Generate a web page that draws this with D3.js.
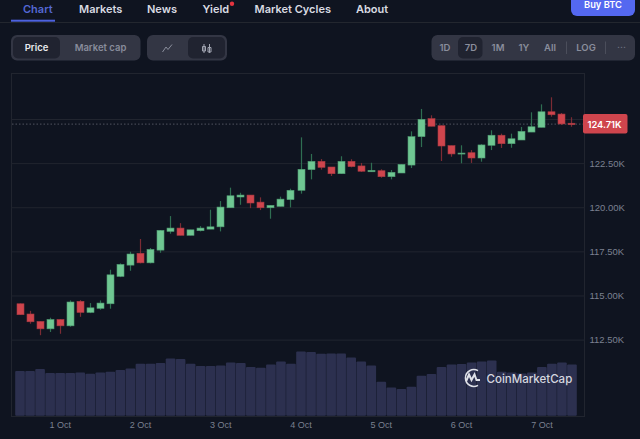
<!DOCTYPE html>
<html>
<head>
<meta charset="UTF-8">
<title>BTC chart</title>
<script src="https://cdn.jsdelivr.net/npm/d3@7"></script>
<style>
html, body { margin: 0; padding: 0; background: #0f1420; overflow: hidden; }
svg { display: block; font-family: Inter, "Noto Sans", sans-serif; }
</style>
</head>
<body>
<svg id="vis" width="640" height="439"></svg>
<script>
// 3h candles, prices in thousands of USD
var opens = [114.53,113.95,113.53,113.11,113.64,113.28,114.67,114.04,114.27,114.53,116.08,116.72,117.39,116.85,117.57,118.63,118.82,118.41,118.67,118.76,118.89,119.97,120.58,120.69,120.29,119.97,120.05,120.43,120.96,122.13,122.60,122.28,121.90,122.60,122.34,122.01,122.07,121.73,121.94,122.39,124.00,125.02,124.62,123.49,123.02,123.09,122.79,123.51,124.08,123.60,123.81,124.26,124.53,125.41,125.28,124.76];
var highs = [114.55,114.13,113.53,113.74,113.66,114.72,114.74,114.57,114.72,116.46,116.82,117.48,118.20,117.69,118.71,119.50,119.10,118.72,118.93,119.86,120.35,121.11,120.82,120.69,120.56,120.11,120.60,121.05,123.96,123.02,122.73,122.28,122.89,122.72,122.51,122.52,122.15,122.11,122.43,124.30,125.57,125.21,124.62,123.49,123.51,123.24,123.57,124.36,124.17,124.17,124.55,125.38,125.83,126.23,125.34,125.10];
var lows = [113.91,113.40,112.75,112.93,112.83,113.23,113.79,114.00,114.19,114.25,116.04,116.40,116.82,116.82,117.42,118.50,118.41,118.41,118.63,118.76,118.63,119.97,120.14,119.95,119.84,119.35,120.05,119.99,120.77,121.58,122.13,121.77,121.90,122.26,122.00,122.01,121.67,121.58,121.94,122.22,123.41,124.59,122.62,122.86,122.49,122.51,122.58,123.24,123.36,123.37,123.81,124.26,124.53,125.13,124.66,124.56];
var closes = [113.91,113.51,113.11,113.64,113.28,114.63,114.04,114.30,114.57,116.17,116.76,117.35,116.85,117.61,118.69,118.82,118.41,118.72,118.82,118.89,120.01,120.65,120.69,120.24,119.97,120.11,120.46,120.96,122.15,122.60,122.26,121.90,122.60,122.30,122.04,122.09,121.73,121.98,122.43,124.00,124.98,124.59,123.47,123.02,123.07,122.79,123.53,124.08,123.60,123.88,124.30,124.56,125.41,125.24,124.72,124.68];
// volume axis is not labelled, so relative units
var volumes = [44.7,44.7,46.7,42.7,42.7,42.7,43.3,42,43.3,44,45.7,47.3,52,52,52.7,57.3,56.7,52,49.7,49.7,50.3,53.3,52.7,48.7,48,51.3,54.3,52,64.3,63.7,62,62.3,62.3,58.3,54.3,50.3,34,28.3,26.7,29,40,41.7,48.7,51.3,51.7,53.3,54.3,55.3,44,43.3,42.3,43.3,48.7,52,53.3,51.3];

var priceTicks = [112.5,115,117.5,120,122.5,125];
var priceLabels = ["112.50K","115.00K","117.50K","120.00K","122.50K",""];
var dayIndex = [4,12,20,28,36,44,52];
var dayLabels = ["1 Oct","2 Oct","3 Oct","4 Oct","5 Oct","6 Oct","7 Oct"];
var lastPrice = 124.71, lastLabel = "124.71K";
var navItems = ["Chart","Markets","News","Yield","Market Cycles","About"];
var navX = [23,79,147,202.5,254.5,356];
var rangeItems = ["1D","7D","1M","1Y","All","LOG"];
var rangeX = [445,471,498,524,550,586];

var GREEN = "#6fc792", GREEN_EDGE = "#4f9c72", GREEN_WICK = "#2f6e52";
var RED = "#cf454d", RED_EDGE = "#a83a42", RED_WICK = "#7c2b34";
var TEXT = "#7b8090";

var svg = d3.select("#vis");
var x = d3.scaleBand().domain(d3.range(opens.length)).range([15, 577]).padding(0);
var y = d3.scaleLinear().domain([112.5, 125]).range([339.6, 119]);
var v = d3.scaleLinear().domain([0, 100]).range([415.7, 315.7]);
function cx(i) { return Math.round(x(i) + x.bandwidth() / 2 - 0.5) + 0.5; }

// frame
svg.append("rect").attr("x", 11.5).attr("y", 73.5).attr("width", 573).attr("height", 343)
	.attr("fill", "none").attr("stroke", "#21252f");

// grid + price axis
var yAxis = d3.axisRight(y).tickValues(priceTicks).tickSize(-573).tickPadding(5)
	.tickFormat(function(d, i) { return priceLabels[i]; });
var gy = svg.append("g").attr("transform", "translate(584.5,0)").call(yAxis);
gy.select(".domain").remove();
gy.selectAll("line").attr("stroke", "#21252f");
gy.selectAll("text").attr("fill", TEXT).attr("font-size", 9.5).attr("font-weight", 500);

// day axis
var xAxis = d3.axisBottom(x).tickValues(dayIndex).tickSize(0).tickPadding(6)
	.tickFormat(function(d, i) { return dayLabels[i]; });
var gx = svg.append("g").attr("transform", "translate(0,416)").call(xAxis);
gx.select(".domain").remove();
gx.selectAll("text").attr("fill", TEXT).attr("font-size", 9).attr("font-weight", 400);

// volume
svg.append("g").selectAll("rect").data(volumes).join("rect")
	.attr("x", function(d, i) { return x(i) + 0.2; })
	.attr("width", x.bandwidth() - 0.4)
	.attr("y", function(d) { return v(d); })
	.attr("height", function(d) { return v(0) - v(d); })
	.attr("rx", 1)
	.attr("fill", "#2c304f");

// last price line
svg.append("line").attr("x1", 12).attr("x2", 584)
	.attr("y1", y(lastPrice)).attr("y2", y(lastPrice))
	.attr("stroke", "#50545f").attr("stroke-dasharray", "1.5 2");

// candles
var candles = svg.append("g").selectAll("g").data(d3.range(opens.length)).join("g");
candles.append("line")
	.attr("x1", cx).attr("x2", cx)
	.attr("y1", function(i) { return y(highs[i]); })
	.attr("y2", function(i) { return y(lows[i]); })
	.attr("stroke", function(i) { return closes[i] >= opens[i] ? GREEN_WICK : RED_WICK; })
	.attr("stroke-width", 1.2);
candles.append("rect")
	.attr("x", function(i) { return cx(i) - 3.5; })
	.attr("width", 7)
	.attr("y", function(i) { return y(Math.max(opens[i], closes[i])); })
	.attr("height", function(i) { return Math.max(1, Math.abs(y(opens[i]) - y(closes[i]))); })
	.attr("fill", function(i) { return closes[i] >= opens[i] ? GREEN : RED; })
	.attr("stroke", function(i) { return closes[i] >= opens[i] ? GREEN_EDGE : RED_EDGE; })
	.attr("stroke-width", 0.6);

// last price tag
svg.append("rect").attr("x", 583).attr("y", 114).attr("width", 44.5).attr("height", 19.5).attr("rx", 2).attr("fill", RED);
svg.append("text").attr("x", 604.5).attr("y", 127.5).attr("text-anchor", "middle")
	.attr("fill", "#fff").attr("font-size", 9.3).attr("font-weight", 600).text(lastLabel);

// watermark
var mark = svg.append("g").attr("transform", "translate(471.5,378)");
mark.append("path").attr("d", "M6.5 -7.3 A8.4 8.4 0 1 0 6.5 7.3").attr("fill", "none").attr("stroke", "#dfe1e8").attr("stroke-width", 1.5);
mark.append("path").attr("d", "M-5.5 3.5 L-2.5 -3.5 L0 2 L3 -3.5 L5 2 L8.5 2").attr("fill", "none").attr("stroke", "#dfe1e8").attr("stroke-width", 2);
svg.append("text").attr("x", 486.5).attr("y", 382.5).attr("fill", "#d5d7df").attr("font-size", 11.5).attr("font-weight", 500).text("CoinMarketCap");

// nav
svg.selectAll(".nav").data(navItems).join("text").attr("class", "nav")
	.attr("x", function(d, i) { return navX[i]; }).attr("y", 12.5)
	.attr("font-size", 11).attr("font-weight", 600)
	.attr("fill", function(d, i) { return i == 0 ? "#5468d4" : "#d9dbe2"; })
	.text(function(d) { return d; });
svg.append("circle").attr("cx", 232).attr("cy", 3.8).attr("r", 2.2).attr("fill", "#e5343f");
svg.append("line").attr("x1", 0).attr("x2", 640).attr("y1", 22.5).attr("y2", 22.5).attr("stroke", "#23272f");
svg.append("rect").attr("x", 11).attr("y", 19.7).attr("width", 44).attr("height", 2).attr("fill", "#4d62df");

// buy button
svg.append("rect").attr("x", 571).attr("y", -8).attr("width", 64).attr("height", 24).attr("rx", 6).attr("fill", "#5468f0");
svg.append("text").attr("x", 603).attr("y", 7.6).attr("text-anchor", "middle").attr("fill", "#fff")
	.attr("font-size", 9.3).attr("font-weight", 600).text("Buy BTC");

// toggles
function pill(px, py, w, h, fill, r) {
	svg.append("rect").attr("x", px).attr("y", py).attr("width", w).attr("height", h).attr("rx", r).attr("fill", fill);
}
function label(tx, txt, fill) {
	svg.append("text").attr("x", tx).attr("y", 51).attr("text-anchor", "middle").attr("fill", fill)
		.attr("font-size", 9.5).attr("font-weight", 600).text(txt);
}
pill(11, 35, 129.5, 25.5, "#333644", 6);
pill(13, 37, 47, 21.5, "#202330", 5);
label(36.5, "Price", "#e8e9ee");
label(100.5, "Market cap", "#888c9b");

pill(147, 35, 80, 25.5, "#333644", 6);
pill(188, 37, 37, 21.5, "#202330", 5);
svg.append("path").attr("d", "M162.5 52 L166 47 L168 49.5 L172 44.5").attr("fill", "none").attr("stroke", "#8a8e9c").attr("stroke-width", 1);
svg.append("path").attr("d", "M204 44 V53 M209.5 44 V53 M202.5 46.5 h3 v4.5 h-3 z M208 47.5 h3 v4.5 h-3 z").attr("fill", "none").attr("stroke", "#a0a4b0").attr("stroke-width", 1);

pill(431.5, 35, 203.5, 25.5, "#333644", 6);
pill(458, 37, 24.5, 21.5, "#202330", 5);
rangeItems.forEach(function(d, i) { label(rangeX[i], d, "#8a8e9c"); });
[566.5, 605.5].forEach(function(lx) {
	svg.append("line").attr("x1", lx).attr("x2", lx).attr("y1", 41.5).attr("y2", 54).attr("stroke", "#4b4e5b");
});
svg.append("text").attr("x", 621.5).attr("y", 51).attr("text-anchor", "middle").attr("fill", "#6f7382").attr("font-size", 10.5).text("···");
</script>
</body>
</html>
